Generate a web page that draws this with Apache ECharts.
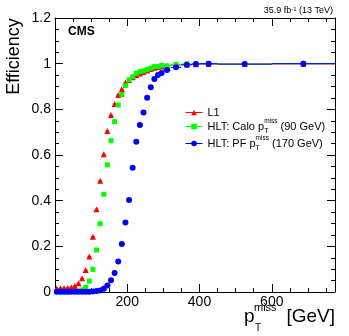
<!DOCTYPE html>
<html><head><meta charset="utf-8">
<script src="https://cdn.jsdelivr.net/npm/echarts@6/dist/echarts.min.js"></script>
<style>html,body{margin:0;padding:0;background:#fff}#c{width:349px;height:336px}</style>
</head><body><div id="c"></div>
<script>
// bin edges of pT(miss) in GeV
const binEdges = [0,10,20,30,40,50,60,70,80,90,100,110,120,130,140,150,160,170,180,190,200,210,220,230,240,250,260,270,280,290,300,320,350,380,400,450,600,775];
const l1Eff = [0.015,0.016,0.017,0.018,0.021,0.026,0.038,0.060,0.096,0.155,
  0.242,0.362,0.487,0.603,0.705,0.775,0.823,0.863,0.888,0.917,
  0.928,0.940,0.950,0.957,0.963,0.970,0.977,0.982,0.985,0.988,
  0.991,0.994,0.996,0.997,0.998,0.998,0.999];
const caloEff = [0.001,0.001,0.001,0.001,0.002,0.002,0.004,0.009,0.021,0.048,
  0.099,0.184,0.299,0.428,0.557,0.663,0.746,0.819,0.865,0.904,
  0.929,0.943,0.958,0.965,0.968,0.975,0.980,0.987,0.987,0.993,
  0.990,0.997,0.999,0.999,1.0,0.998,1.0];
const pfEff = [0.001,0.001,0.001,0.001,0.001,0.001,0.001,0.001,0.001,0.001,
  0.002,0.004,0.007,0.014,0.029,0.051,0.083,0.134,0.210,0.304,
  0.403,0.544,0.658,0.731,0.786,0.851,0.897,0.933,0.950,0.959,
  0.972,0.984,0.995,0.999,1.0,0.998,1.0];
const seriesNames = ['L1', 'HLT: Calo pTmiss (90 GeV)', 'HLT: PF pTmiss (170 GeV)'];
const legendLabels = ['{t|L1}', '{t|HLT: Calo p}{sub|T}{sup|miss}{t| (90 GeV)}', '{t|HLT: PF p}{sub|T}{sup|miss}{t| (170 GeV)}'];
const xLabelTicks = [200, 400, 600];
const xRange = [0, 775];
const yRange = [0, 1.2];

const colors = ['#ff0000', '#00ff00', '#0000ff'];
const symbols = ['triangle', 'rect', 'circle'];
const symbolSizes = [6, 5, 6];
const FONT = 'Liberation Sans';

const chart = echarts.init(document.getElementById('c'), null, {renderer: 'canvas'});
const effSets = [l1Eff, caloEff, pfEff];
const series = [];
effSets.forEach((eff, k) => {
  const bars = eff.map((v, i) => [binEdges[i], binEdges[i + 1], v]);
  const pts = eff.map((v, i) => [(binEdges[i] + binEdges[i + 1]) / 2, v]);
  series.push({
    type: 'custom', silent: true, xAxisIndex: 0, yAxisIndex: 0,
    encode: {x: [0, 1], y: 2},
    data: bars,
    renderItem: function (params, api) {
      const a = api.coord([api.value(0), api.value(2)]);
      const b = api.coord([api.value(1), api.value(2)]);
      return {type: 'line', shape: {x1: a[0], y1: a[1], x2: b[0], y2: b[1]},
        style: {stroke: colors[k], lineWidth: 1}};
    }
  });
  series.push({
    type: 'line', name: seriesNames[k], xAxisIndex: 0, yAxisIndex: 0,
    data: pts, symbol: symbols[k], symbolSize: symbolSizes[k], showSymbol: true,
    itemStyle: {color: colors[k]}, lineStyle: {opacity: 0, width: 0}
  });
});

const tickStyle = {color: '#000', width: 1};
function xAx(pos, interval, len, showLine, showLabels) {
  return {
    type: 'value', min: xRange[0], max: xRange[1], interval: interval, position: pos,
    splitLine: {show: false},
    axisLine: {show: showLine, onZero: false, lineStyle: {color: '#000', width: 1}},
    axisTick: {show: true, inside: true, length: len, lineStyle: tickStyle},
    axisLabel: showLabels ? {show: true, fontSize: 14, color: '#000', margin: 3, fontFamily: FONT,
      showMinLabel: false, showMaxLabel: false,
      formatter: v => xLabelTicks.indexOf(v) >= 0 ? String(v) : ''} : {show: false}
  };
}
function yAx(pos, showLabels) {
  return {
    type: 'value', min: yRange[0], max: yRange[1], interval: 0.2, position: pos,
    splitLine: {show: false},
    axisLine: {show: true, onZero: false, lineStyle: {color: '#000', width: 1}},
    axisTick: {show: true, inside: true, length: 8, lineStyle: tickStyle},
    minorTick: {show: true, splitNumber: 4, length: 4, lineStyle: tickStyle},
    axisLabel: showLabels ? {show: true, fontSize: 14, color: '#000', margin: 4, fontFamily: FONT} : {show: false}
  };
}

chart.setOption({
  animation: false,
  backgroundColor: '#fff',
  textStyle: {fontFamily: FONT},
  grid: {left: 55, right: 14, top: 18, bottom: 44, containLabel: false},
  xAxis: [xAx('bottom', 50, 4, true, true), xAx('bottom', 200, 8, false, false),
          xAx('top', 50, 4, true, false), xAx('top', 200, 8, false, false)],
  yAxis: [yAx('left', true), yAx('right', false)],
  legend: {
    orient: 'vertical', left: 180, top: 102, itemWidth: 17, itemHeight: 7, itemGap: 0,
    selectedMode: false,
    data: seriesNames.map((n, i) => ({name: n, lineStyle: {opacity: 1, width: 1, color: colors[i]}})),
    formatter: name => legendLabels[seriesNames.indexOf(name)],
    textStyle: {
      fontFamily: FONT, color: '#000', fontSize: 11,
      rich: {
        t: {fontSize: 11, lineHeight: 17, fontFamily: FONT, color: '#000'},
        sub: {fontSize: 7, lineHeight: 1, verticalAlign: 'bottom', width: 0, fontFamily: FONT, color: '#000'},
        sup: {fontSize: 6.5, lineHeight: 12, verticalAlign: 'top', fontFamily: FONT, color: '#000'}
      }
    }
  },
  graphic: [
    {type: 'text', x: 14, y: 56.5, rotation: Math.PI / 2,
      style: {text: 'Efficiency', font: '18px "Liberation Sans"', fill: '#000', align: 'center', verticalAlign: 'middle'}},
    {type: 'text', x: 68, y: 32,
      style: {text: 'CMS', font: 'bold 12px "Liberation Sans"', fill: '#000', align: 'left', verticalAlign: 'middle'}},
    {type: 'text', x: 333, y: 11,
      style: {text: '{a|35.9 fb}{s|-1}{a| (13 TeV)}', fill: '#000', align: 'right', verticalAlign: 'middle',
        rich: {a: {fontSize: 9, fontFamily: FONT, lineHeight: 10}, s: {fontSize: 6, fontFamily: FONT, lineHeight: 6, verticalAlign: 'top'}}}},
    {type: 'text', x: 244, y: 316.9,
      style: {text: 'p', font: '19px "Liberation Sans"', fill: '#000', align: 'left', verticalAlign: 'middle'}},
    {type: 'text', x: 255, y: 328.2,
      style: {text: 'T', font: '10px "Liberation Sans"', fill: '#000', align: 'left', verticalAlign: 'middle'}},
    {type: 'text', x: 254, y: 307.9,
      style: {text: 'miss', font: '11px "Liberation Sans"', fill: '#000', align: 'left', verticalAlign: 'middle'}},
    {type: 'text', x: 335, y: 316.9,
      style: {text: '[GeV]', font: '19px "Liberation Sans"', fill: '#000', align: 'right', verticalAlign: 'middle'}}
  ],
  series: series
});
</script></body></html>
